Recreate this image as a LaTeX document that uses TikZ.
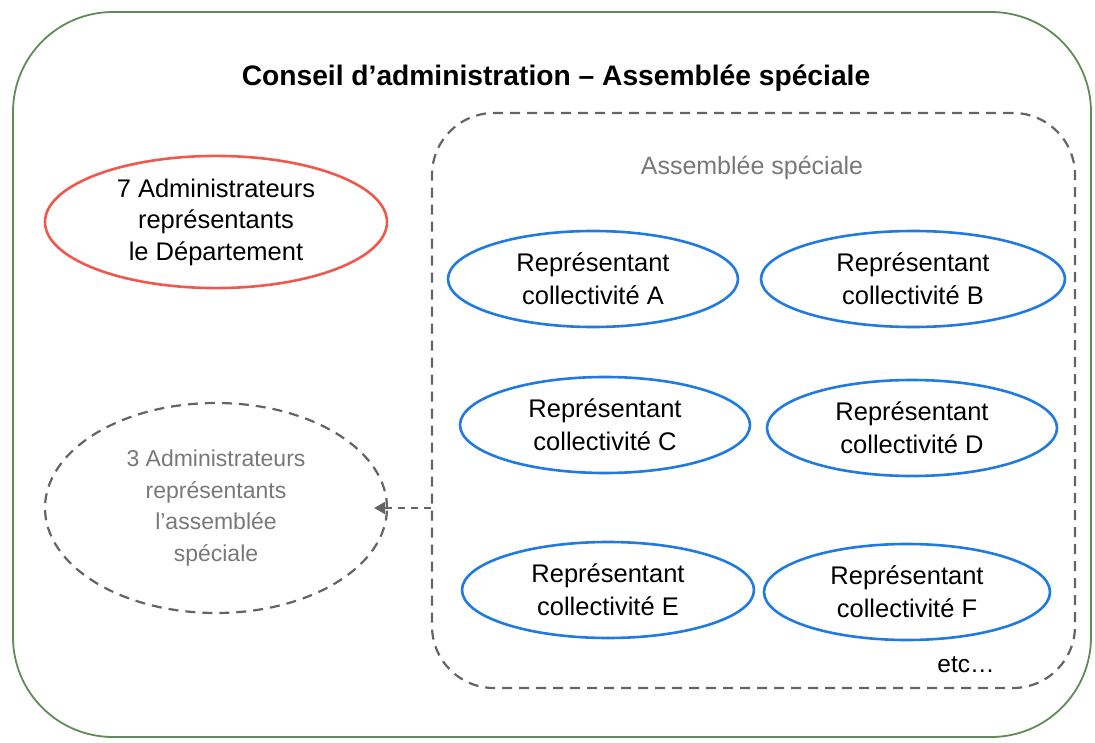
\documentclass[tikz,border=0pt]{standalone}
\usepackage{fontspec}
\setmainfont{Liberation Sans}
\usetikzlibrary{shapes.geometric,arrows.meta}

\definecolor{framegreen}{RGB}{96,140,88}
\definecolor{deptred}{RGB}{240,88,78}
\definecolor{repblue}{RGB}{32,122,226}
\definecolor{asmgray}{RGB}{100,100,100}
\definecolor{textgray}{RGB}{120,120,120}

\begin{document}
\begin{tikzpicture}[x=1pt, y=-1pt,
    rep/.style={ellipse, draw=repblue, line width=2.6pt, minimum width=290pt, minimum height=96pt,
        align=center, font=\fontsize{25.5}{33}\selectfont},
    dashline/.style={draw=asmgray, line width=2.2pt, dash pattern=on 10pt off 7pt}]
    \useasboundingbox (0,0) rectangle (1095,743);

    % Conseil d'administration
    \draw[framegreen, line width=1.8pt, rounded corners=100pt] (13,12) rectangle (1091,737);
    \node[font=\fontsize{28.2}{34}\bfseries] (title) at (556,78)
        {Conseil d’administration – Assemblée spéciale};

    % Administrateurs
    \node[ellipse, draw=deptred, line width=2.6pt, minimum width=342pt, minimum height=124pt,
        align=center, font=\fontsize{25.5}{31.5}\selectfont] (adm7) at (216,222)
        {7 Administrateurs\\représentants\\le Département};
    \node[ellipse, dashline, minimum width=342pt, minimum height=210pt, align=center,
        text=textgray, font=\fontsize{23}{31.7}\selectfont] (adm3) at (216,508)
        {3 Administrateurs\\représentants\\l’assemblée\\spéciale};

    % Assemblee speciale
    \node[dashline, rounded corners=62pt, minimum width=643pt, minimum height=575pt] (asm) at (753.5,400.5) {};
    \node[text=textgray, font=\fontsize{25}{30}\selectfont] (asmlabel) at (752,168) {Assemblée spéciale};

    \node[rep] (repA) at (593,279) {Représentant\\collectivité A};
    \node[rep, minimum width=304pt] (repB) at (913,279) {Représentant\\collectivité B};
    \node[rep] (repC) at (605,425) {Représentant\\collectivité C};
    \node[rep] (repD) at (912,428) {Représentant\\collectivité D};
    \node[rep, minimum width=292pt] (repE) at (608,590) {Représentant\\collectivité E};
    \node[rep, minimum width=286pt] (repF) at (907,592) {Représentant\\collectivité F};
    \node[font=\fontsize{24.5}{30}\selectfont] (etc) at (966,665) {etc…};

    % Election des administrateurs
    \coordinate (asmside) at (asm.west |- adm3.east);
    \draw[dashline, dash pattern=on 7pt off 6pt, -{Triangle[length=11pt, width=12pt]}, shorten >=-14pt]
        (asmside) -- (adm3.east);
\end{tikzpicture}
\end{document}
